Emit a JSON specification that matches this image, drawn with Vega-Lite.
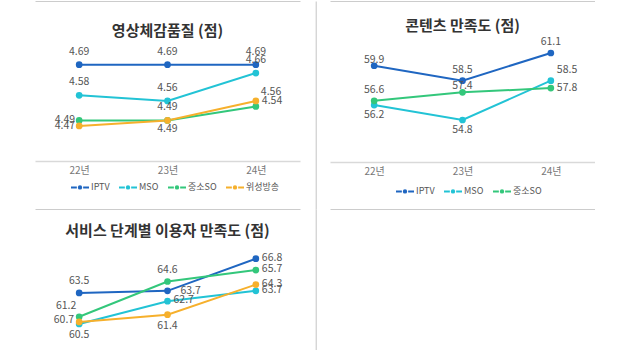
{
  "$schema": "https://vega.github.io/schema/vega-lite/v6.json",
  "padding": {"left": 35, "top": 1, "right": 0, "bottom": 0},
  "background": "white",
  "bounds": "flush",
  "columns": 2,
  "spacing": {"row": 0, "column": 30},
  "config": {
    "view": {"stroke": null},
    "font": "Noto Sans CJK KR",
    "axisX": {"domainColor": "#d9d9d9", "domainWidth": 1.5, "ticks": false, "grid": false, "labelColor": "#777", "labelFontSize": 10, "labelPadding": 4, "title": null, "labelAngle": 0},
    "axisY": {"ticks": false, "labels": false, "title": null, "gridColor": "#cccccc", "gridWidth": 1, "domainColor": "#c4c4c4", "domainWidth": 1},
    "text": {"fontSize": 10.5, "fill": "#555"},
    "title": {"fontSize": 15, "fontWeight": "bold", "color": "#333", "anchor": "middle", "frame": "group"},
    "legend": {"orient": "none", "direction": "horizontal", "title": null, "symbolType": "M-1,0L-0.35,0M0.35,0L1,0M-0.13,0A0.13,0.13 0 1,0 0.13,0A0.13,0.13 0 1,0 -0.13,0", "symbolSize": 324, "symbolStrokeWidth": 2, "labelFontSize": 9, "labelColor": "#555", "columnPadding": 5, "labelOffset": 1}
  },
  "datasets": {
    "p1": [
      {"year": "22년", "series": "IPTV", "value": 4.69},
      {"year": "23년", "series": "IPTV", "value": 4.69},
      {"year": "24년", "series": "IPTV", "value": 4.69},
      {"year": "22년", "series": "MSO", "value": 4.58},
      {"year": "23년", "series": "MSO", "value": 4.56},
      {"year": "24년", "series": "MSO", "value": 4.66},
      {"year": "22년", "series": "중소SO", "value": 4.49},
      {"year": "23년", "series": "중소SO", "value": 4.49},
      {"year": "24년", "series": "중소SO", "value": 4.54},
      {"year": "22년", "series": "위성방송", "value": 4.47},
      {"year": "23년", "series": "위성방송", "value": 4.49},
      {"year": "24년", "series": "위성방송", "value": 4.56}
    ],
    "p2": [
      {"year": "22년", "series": "IPTV", "value": 59.9},
      {"year": "23년", "series": "IPTV", "value": 58.5},
      {"year": "24년", "series": "IPTV", "value": 61.1},
      {"year": "22년", "series": "MSO", "value": 56.2},
      {"year": "23년", "series": "MSO", "value": 54.8},
      {"year": "24년", "series": "MSO", "value": 58.5},
      {"year": "22년", "series": "중소SO", "value": 56.6},
      {"year": "23년", "series": "중소SO", "value": 57.4},
      {"year": "24년", "series": "중소SO", "value": 57.8}
    ],
    "p3": [
      {"year": "22년", "series": "IPTV", "value": 63.5},
      {"year": "23년", "series": "IPTV", "value": 63.7},
      {"year": "24년", "series": "IPTV", "value": 66.8},
      {"year": "22년", "series": "MSO", "value": 60.5},
      {"year": "23년", "series": "MSO", "value": 62.7},
      {"year": "24년", "series": "MSO", "value": 63.7},
      {"year": "22년", "series": "중소SO", "value": 61.2},
      {"year": "23년", "series": "중소SO", "value": 64.6},
      {"year": "24년", "series": "중소SO", "value": 65.7},
      {"year": "22년", "series": "위성방송", "value": 60.7},
      {"year": "23년", "series": "위성방송", "value": 61.4},
      {"year": "24년", "series": "위성방송", "value": 64.3}
    ]
  },
  "resolve": {"scale": {"color": "independent"}, "legend": {"color": "independent"}},
  "concat": [
    {
      "width": 265,
      "height": 208,
      "title": {"text": "영상체감품질 (점)", "offset": -38},
      "data": {"name": "p1"},
      "encoding": {
        "x": {"field": "year", "type": "ordinal", "scale": {"type": "point", "padding": 0.5}, "axis": {"offset": -48}},
        "y": {"field": "value", "type": "quantitative", "scale": {"domain": [4.172, 4.9186], "zero": false, "nice": false},
              "axis": {"orient": "right", "offset": 15.7, "values": [4.172, 4.9186], "grid": true, "domain": true}}
      },
      "layer": [
        {"mark": {"type": "line", "strokeWidth": 2},
         "encoding": {"color": {"field": "series", "type": "nominal", "scale": {"domain": ["IPTV", "MSO", "중소SO", "위성방송"], "range": ["#1f66c1", "#22c3d5", "#33c77b", "#f6b02c"]}, "legend": {"legendX": 35, "legendY": 176}}}},
        {"mark": {"type": "circle", "size": 45, "opacity": 1},
         "encoding": {"color": {"field": "series", "type": "nominal", "legend": null}}},
        {"transform": [{"filter": "datum.series == 'IPTV' || datum.series == 'MSO' || (datum.series == '중소SO' && datum.year == '23년')"}],
         "mark": {"type": "text", "dy": -13},
         "encoding": {"text": {"field": "value", "type": "quantitative", "format": ".2f"}}},
        {"transform": [{"filter": "datum.year == '22년' && (datum.series == '중소SO' || datum.series == '위성방송')"}],
         "mark": {"type": "text", "align": "right", "dx": -4, "dy": 0},
         "encoding": {"text": {"field": "value", "type": "quantitative", "format": ".2f"}}},
        {"transform": [{"filter": "datum.year == '23년' && datum.series == '위성방송'"}],
         "mark": {"type": "text", "dy": 9},
         "encoding": {"text": {"field": "value", "type": "quantitative", "format": ".2f"}}},
        {"transform": [{"filter": "datum.year == '24년' && datum.series == '중소SO'"}],
         "mark": {"type": "text", "align": "left", "dx": 6, "dy": -5},
         "encoding": {"text": {"field": "value", "type": "quantitative", "format": ".2f"}}},
        {"transform": [{"filter": "datum.year == '24년' && datum.series == '위성방송'"}],
         "mark": {"type": "text", "align": "left", "dx": 5, "dy": -9},
         "encoding": {"text": {"field": "value", "type": "quantitative", "format": ".2f"}}}
      ]
    },
    {
      "width": 265,
      "height": 208,
      "title": {"text": "콘텐츠 만족도 (점)", "offset": -33},
      "data": {"name": "p2"},
      "encoding": {
        "x": {"field": "year", "type": "ordinal", "scale": {"type": "point", "padding": 0.5}, "axis": {"offset": -47}},
        "y": {"field": "value", "type": "quantitative", "scale": {"domain": [46.431, 65.989], "zero": false, "nice": false},
              "axis": {"orient": "left", "values": [46.431, 65.989], "grid": true, "domain": false}}
      },
      "layer": [
        {"mark": {"type": "line", "strokeWidth": 2},
         "encoding": {"color": {"field": "series", "type": "nominal", "scale": {"domain": ["IPTV", "MSO", "중소SO"], "range": ["#1f66c1", "#22c3d5", "#33c77b"]}, "legend": {"legendX": 65, "legendY": 180}}}},
        {"mark": {"type": "circle", "size": 45, "opacity": 1},
         "encoding": {"color": {"field": "series", "type": "nominal", "legend": null}}},
        {"transform": [{"filter": "(datum.series == 'IPTV' && datum.year != '22년') || (datum.series == '중소SO' && datum.year == '22년')"}],
         "mark": {"type": "text", "dy": -11},
         "encoding": {"text": {"field": "value", "type": "quantitative", "format": ".1f"}}},
        {"transform": [{"filter": "(datum.series == 'IPTV' && datum.year == '22년') || (datum.series == '중소SO' && datum.year == '23년')"}],
         "mark": {"type": "text", "dy": -6},
         "encoding": {"text": {"field": "value", "type": "quantitative", "format": ".1f"}}},
        {"transform": [{"filter": "datum.series == 'MSO' && datum.year != '24년'"}],
         "mark": {"type": "text", "dy": 10},
         "encoding": {"text": {"field": "value", "type": "quantitative", "format": ".1f"}}},
        {"transform": [{"filter": "datum.series == '중소SO' && datum.year == '24년'"}],
         "mark": {"type": "text", "align": "left", "dx": 6, "dy": 0},
         "encoding": {"text": {"field": "value", "type": "quantitative", "format": ".1f"}}},
        {"transform": [{"filter": "datum.series == 'MSO' && datum.year == '24년'"}],
         "mark": {"type": "text", "align": "left", "dx": 6, "dy": -11},
         "encoding": {"text": {"field": "value", "type": "quantitative", "format": ".1f"}}}
      ]
    },
    {
      "width": 265,
      "height": 150,
      "title": {"text": "서비스 단계별 이용자 만족도 (점)", "offset": -30},
      "data": {"name": "p3"},
      "encoding": {
        "x": {"field": "year", "type": "ordinal", "scale": {"type": "point", "padding": 0.5}, "axis": null},
        "y": {"field": "value", "type": "quantitative", "scale": {"domain": [57.123, 71.595], "zero": false, "nice": false},
              "axis": {"orient": "right", "offset": 15.7, "grid": false, "domain": true, "values": [71.595]}}
      },
      "layer": [
        {"mark": {"type": "line", "strokeWidth": 2},
         "encoding": {"color": {"field": "series", "type": "nominal", "scale": {"domain": ["IPTV", "MSO", "중소SO", "위성방송"], "range": ["#1f66c1", "#22c3d5", "#33c77b", "#f6b02c"]}, "legend": null}}},
        {"mark": {"type": "circle", "size": 45, "opacity": 1},
         "encoding": {"color": {"field": "series", "type": "nominal", "legend": null}}},
        {"transform": [{"filter": "(datum.series == 'IPTV' && datum.year == '22년') || (datum.series == '중소SO' && datum.year == '23년')"}],
         "mark": {"type": "text", "dy": -12},
         "encoding": {"text": {"field": "value", "type": "quantitative", "format": ".1f"}}},
        {"transform": [{"filter": "(datum.series == 'MSO' && datum.year == '22년') || (datum.series == '위성방송' && datum.year == '23년')"}],
         "mark": {"type": "text", "dy": 11},
         "encoding": {"text": {"field": "value", "type": "quantitative", "format": ".1f"}}},
        {"transform": [{"filter": "datum.year == '24년' || (datum.series == 'MSO' && datum.year == '23년')"}],
         "mark": {"type": "text", "align": "left", "dx": 6, "dy": -1},
         "encoding": {"text": {"field": "value", "type": "quantitative", "format": ".1f"}}},
        {"transform": [{"filter": "datum.series == 'IPTV' && datum.year == '23년'"}],
         "mark": {"type": "text", "align": "left", "dx": 13, "dy": 0},
         "encoding": {"text": {"field": "value", "type": "quantitative", "format": ".1f"}}},
        {"transform": [{"filter": "datum.series == '위성방송' && datum.year == '22년'"}],
         "mark": {"type": "text", "align": "right", "dx": -5, "dy": -2},
         "encoding": {"text": {"field": "value", "type": "quantitative", "format": ".1f"}}},
        {"transform": [{"filter": "datum.series == '중소SO' && datum.year == '22년'"}],
         "mark": {"type": "text", "dx": -13, "dy": -11},
         "encoding": {"text": {"field": "value", "type": "quantitative", "format": ".1f"}}}
      ]
    }
  ]
}
